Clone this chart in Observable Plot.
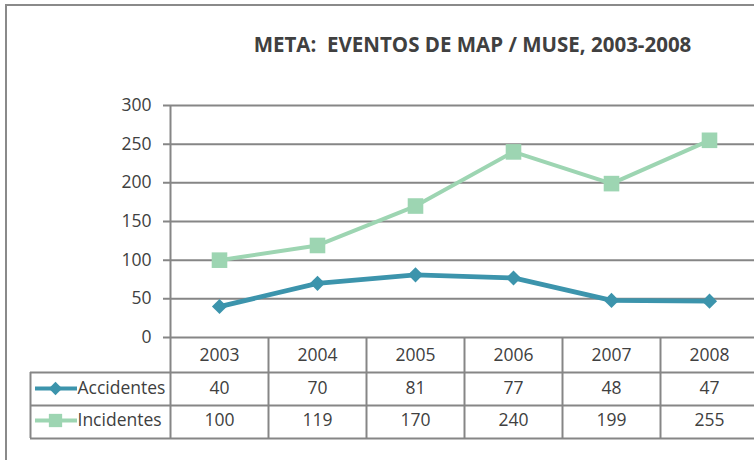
<!DOCTYPE html>
<html><head><meta charset="utf-8">
<script src="https://cdn.jsdelivr.net/npm/d3@7"></script>
<script src="https://cdn.jsdelivr.net/npm/@observablehq/plot@0.6"></script>
<style>
body{margin:0;background:#fff;}
#wrap{position:relative;width:754px;height:460px;overflow:hidden;background:#fff;}
#border{position:absolute;left:5px;top:4px;width:800px;height:500px;border-left:2px solid #8a8a8a;border-top:2px solid #8a8a8a;}
#chart{position:absolute;left:0;top:0;}
svg text{white-space:pre;}
</style></head>
<body><div id="wrap"><div id="border"></div><div id="chart"></div></div>
<script>
const title = "META:  EVENTOS DE MAP / MUSE, 2003-2008";
const years = ["2003", "2004", "2005", "2006", "2007", "2008"];
const accidentes = [40, 70, 81, 77, 48, 47];
const incidentes = [100, 119, 170, 240, 199, 255];
const seriesNames = ["Accidentes", "Incidentes"];
const yTicks = [0, 50, 100, 150, 200, 250, 300];

const accColor = "#3c94ac";
const incColor = "#9dd5b2";
const gridColor = "#868686";
const textColor = "#404040";
const font = "Open Sans";

const acc = years.map((y, i) => ({pos: i + 0.5, year: y, value: accidentes[i]}));
const inc = years.map((y, i) => ({pos: i + 0.5, year: y, value: incidentes[i]}));
const bounds = d3.range(1, years.length + 1);

const zero = () => 0;
const tableText = {fontFamily: font, fontSize: 17.5, fill: textColor};

const plot = Plot.plot({
  width: 754,
  height: 460,
  marginLeft: 170,
  marginRight: 0,
  marginTop: 105,
  marginBottom: 123,
  style: {background: "transparent", overflow: "visible"},
  x: {type: "linear", domain: [0, years.length], range: [170, 758], axis: null},
  y: {domain: [0, 300], range: [337, 105], axis: null},
  marks: [
    // title
    Plot.text([title], {frameAnchor: "top", lineAnchor: "middle", dx: 10, dy: -60, fontFamily: font, fontWeight: "bold", fontSize: 20.5, fill: textColor}),
    // grid + ticks
    Plot.ruleY(yTicks, {insetLeft: -7, stroke: gridColor, strokeWidth: 2}),
    Plot.text(yTicks, {x: zero, y: d => d, text: d => String(d), textAnchor: "end", dx: -19, ...tableText}),
    // axis line (extends through table)
    Plot.ruleX([0], {insetBottom: -101, stroke: gridColor, strokeWidth: 2}),
    // table horizontal lines
    Plot.ruleY([0], {dy: 35, insetLeft: -140, stroke: gridColor, strokeWidth: 2}),
    Plot.ruleY([0], {dy: 68, insetLeft: -140, stroke: gridColor, strokeWidth: 2}),
    Plot.ruleY([0], {dy: 101, insetLeft: -140, stroke: gridColor, strokeWidth: 2}),
    // table vertical lines
    Plot.ruleX(bounds, {y1: zero, y2: zero, insetBottom: -101, stroke: gridColor, strokeWidth: 2}),
    Plot.ruleX([0], {y1: zero, y2: zero, insetTop: 35, insetBottom: -101, dx: -140, stroke: gridColor, strokeWidth: 2}),
    // table text
    Plot.text(acc, {x: "pos", y: zero, text: "year", dy: 18, ...tableText}),
    Plot.text(acc, {x: "pos", y: zero, text: d => String(d.value), dy: 51, ...tableText}),
    Plot.text(inc, {x: "pos", y: zero, text: d => String(d.value), dy: 83, ...tableText}),
    // legend glyphs
    Plot.ruleY([0], {x1: zero, x2: zero, insetLeft: -135, insetRight: 93, dy: 51, stroke: accColor, strokeWidth: 4}),
    Plot.dot([0], {x: zero, y: zero, dx: -115, dy: 51, symbol: "diamond2", r: 6, fill: accColor}),
    Plot.text([seriesNames[0]], {x: zero, y: zero, dx: -93, dy: 51, textAnchor: "start", ...tableText}),
    Plot.ruleY([0], {x1: zero, x2: zero, insetLeft: -135, insetRight: 93, dy: 83, stroke: incColor, strokeWidth: 4}),
    Plot.dot([0], {x: zero, y: zero, dx: -115, dy: 83, symbol: "square", r: 7.5, fill: incColor}),
    Plot.text([seriesNames[1]], {x: zero, y: zero, dx: -93, dy: 83, textAnchor: "start", ...tableText}),
    // series
    Plot.line(inc, {x: "pos", y: "value", stroke: incColor, strokeWidth: 4}),
    Plot.dot(inc, {x: "pos", y: "value", symbol: "square", r: 8.8, fill: incColor}),
    Plot.line(acc, {x: "pos", y: "value", stroke: accColor, strokeWidth: 4.8}),
    Plot.dot(acc, {x: "pos", y: "value", symbol: "diamond2", r: 6.8, fill: accColor})
  ]
});
document.getElementById("chart").appendChild(plot);
</script>
</body></html>
